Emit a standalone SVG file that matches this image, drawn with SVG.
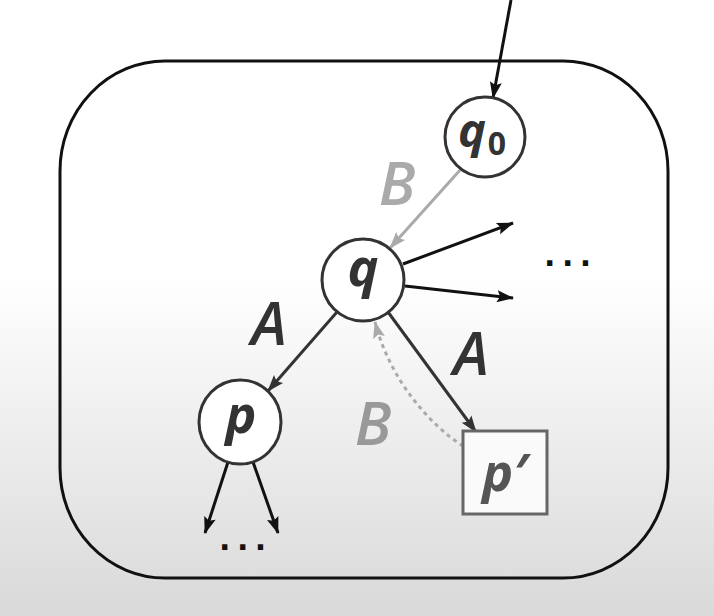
<svg xmlns="http://www.w3.org/2000/svg" width="714" height="616" viewBox="0 0 714 616">
<defs>
<linearGradient id="bg" x1="0" y1="0" x2="0" y2="1">
<stop offset="0" stop-color="#ffffff"/>
<stop offset="0.45" stop-color="#ffffff"/>
<stop offset="1" stop-color="#d9d9d9"/>
</linearGradient>
<marker id="ah" markerUnits="userSpaceOnUse" markerWidth="20" markerHeight="14" refX="16" refY="6" orient="auto" overflow="visible">
<path d="M0,0 L17,6 L0,12 L3,6 Z" fill="#111"/>
</marker>
<marker id="ahd" markerUnits="userSpaceOnUse" markerWidth="20" markerHeight="14" refX="16" refY="6" orient="auto" overflow="visible">
<path d="M0,0 L17,6 L0,12 L3,6 Z" fill="#333"/>
</marker>
<marker id="ahg" markerUnits="userSpaceOnUse" markerWidth="20" markerHeight="14" refX="16" refY="6" orient="auto" overflow="visible">
<path d="M0,0 L17,6 L0,12 L3,6 Z" fill="#aaa"/>
</marker>
<style>
.node{fill:#ffffff;stroke:#333;stroke-width:3}
.lbl{font-family:"Open Sans","Liberation Sans",sans-serif;font-style:italic;font-weight:700;font-size:52px;fill:#333;text-anchor:middle}
.elbl{font-family:"Open Sans","Liberation Sans",sans-serif;font-style:italic;font-weight:600;font-size:60px;text-anchor:middle}
.blk{stroke:#111;stroke-width:3;fill:none;marker-end:url(#ah)}
.dk{stroke:#333;stroke-width:3;fill:none;marker-end:url(#ahd)}
.gr{stroke:#aaa;stroke-width:3;fill:none;marker-end:url(#ahg)}
.dots{font-family:"DejaVu Sans",sans-serif;font-size:30px;fill:#111;font-weight:700;letter-spacing:6.5px}
</style>
</defs>
<rect x="0" y="0" width="714" height="616" fill="url(#bg)"/>
<rect id="container" x="60" y="61" width="608" height="517" rx="105" ry="110" fill="none" stroke="#111" stroke-width="3"/>
<g id="connectors">
<line class="blk" x1="511" y1="0" x2="493" y2="98"/>
<line class="gr" x1="461" y1="169" x2="390" y2="248"/>
<line class="blk" x1="403" y1="264" x2="513" y2="223"/>
<line class="blk" x1="405" y1="286" x2="513" y2="298"/>
<line class="dk" x1="337" y1="312" x2="268" y2="391"/>
<line class="dk" x1="388" y1="312" x2="476" y2="432"/>
<path class="gr" d="M463,446 C430,425 390,380 375,322" stroke-dasharray="4,4"/>
<line class="blk" x1="228" y1="462" x2="205" y2="533"/>
<line class="blk" x1="253" y1="462" x2="278" y2="533"/>
</g>
<g id="q0">
<circle class="node" cx="485" cy="137" r="40"/>
<text class="lbl" x="472" y="147" style="font-size:47px">q</text>
<text x="497" y="155" font-family="'Open Sans','Liberation Sans',sans-serif" font-weight="700" font-size="32" fill="#333" text-anchor="middle">0</text>
</g>
<g id="q">
<circle class="node" cx="363" cy="280" r="41"/>
<text class="lbl" x="363" y="286">q</text>
</g>
<g id="p">
<ellipse class="node" cx="240" cy="422" rx="41" ry="42"/>
<text class="lbl" x="241" y="433">p</text>
</g>
<g id="pprime">
<rect x="463" y="431" width="84" height="83" fill="#fafafa" stroke="#666" stroke-width="3"/>
<text class="lbl" x="505" y="491" style="fill:#555">p′</text>
</g>
<g id="labels">
<text class="elbl" x="397" y="205" fill="#aaa">B</text>
<text class="elbl" x="269" y="345" fill="#333">A</text>
<text class="elbl" x="471" y="375" fill="#333">A</text>
<text class="elbl" x="373" y="445" fill="#999">B</text>
<text class="dots" x="544" y="266">...</text>
<text class="dots" x="219" y="550">...</text>
</g>
</svg>
